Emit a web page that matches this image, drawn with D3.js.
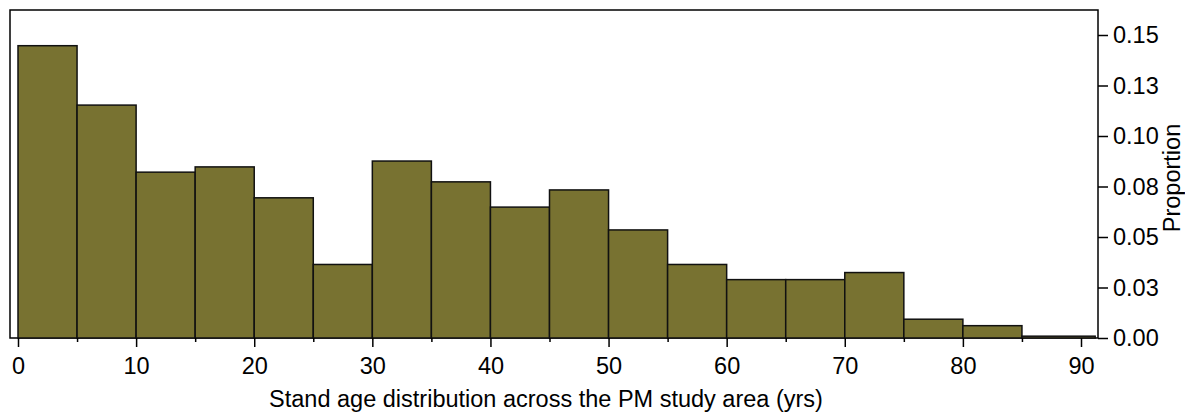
<!DOCTYPE html>
<html>
<head>
<meta charset="utf-8">
<script src="https://cdn.jsdelivr.net/npm/d3@7"></script>
<style>
  html, body { margin: 0; padding: 0; background: #fff; }
  svg { display: block; font-family: "Liberation Sans", Arial, sans-serif; }
</style>
</head>
<body>
<svg id="chart" width="1185" height="412"></svg>
<script>
// Histogram bins of stand age (years); last bin runs to the oldest stand
const binStarts = [0, 5, 10, 15, 20, 25, 30, 35, 40, 45, 50, 55, 60, 65, 70, 75, 80, 85];
const binEnds   = [5, 10, 15, 20, 25, 30, 35, 40, 45, 50, 55, 60, 65, 70, 75, 80, 85, 91.2];
const proportions = [0.1447, 0.1153, 0.0821, 0.0847, 0.0694, 0.0364, 0.0876, 0.0773, 0.0648,
                     0.0733, 0.0535, 0.0364, 0.0289, 0.0289, 0.0324, 0.0093, 0.0061, 0.0009];

const xMajorTicks = [0, 10, 20, 30, 40, 50, 60, 70, 80, 90];
const xMinorTicks = [5, 15, 25, 35, 45, 55, 65, 75, 85];
const yTickValues = [0, 0.025, 0.05, 0.075, 0.1, 0.125, 0.15];
const yTickLabels = ["0.00", "0.03", "0.05", "0.08", "0.10", "0.13", "0.15"];

const xTitle = "Stand age distribution across the PM study area (yrs)";
const yTitle = "Proportion";

const svg = d3.select("#chart");
const frame = { left: 10, top: 10, right: 1098, bottom: 338 };

const x = d3.scaleLinear().domain([0, 90]).range([18, 1081]);
const y = d3.scaleLinear().domain([0, 0.15]).range([frame.bottom, 35]);

const fontSize = 23.5;
const fontFamily = "'Liberation Sans', Arial, sans-serif";

// plot frame
svg.append("rect")
  .attr("x", frame.left).attr("y", frame.top)
  .attr("width", frame.right - frame.left)
  .attr("height", frame.bottom - frame.top)
  .attr("fill", "none").attr("stroke", "#000").attr("stroke-width", 1.5);

// bars
svg.append("g").selectAll("rect")
  .data(proportions)
  .join("rect")
  .attr("x", (d, i) => x(binStarts[i]))
  .attr("y", d => y(d))
  .attr("width", (d, i) => x(binEnds[i]) - x(binStarts[i]))
  .attr("height", d => y(0) - y(d))
  .attr("fill", "#787231")
  .attr("stroke", "#111")
  .attr("stroke-width", 1.5);

// x axis: labelled major ticks plus short minor ticks
const xAxis = svg.append("g")
  .attr("transform", `translate(0,${frame.bottom})`)
  .call(d3.axisBottom(x).tickValues(xMajorTicks).tickSize(9).tickPadding(10).tickFormat(d3.format("d")));
xAxis.select(".domain").remove();
xAxis.selectAll(".tick line").attr("stroke", "#000").attr("stroke-width", 1.5);
xAxis.selectAll(".tick text").attr("font-size", fontSize).attr("fill", "#000")
  .attr("font-family", fontFamily);

const xMinor = svg.append("g")
  .attr("transform", `translate(0,${frame.bottom})`)
  .call(d3.axisBottom(x).tickValues(xMinorTicks).tickSize(4).tickFormat(""));
xMinor.select(".domain").remove();
xMinor.selectAll(".tick line").attr("stroke", "#000").attr("stroke-width", 1.5);

// y axis on the right
const yAxis = svg.append("g")
  .attr("transform", `translate(${frame.right},0)`)
  .call(d3.axisRight(y).tickValues(yTickValues).tickSize(10).tickPadding(5)
    .tickFormat((d, i) => yTickLabels[i]));
yAxis.select(".domain").remove();
yAxis.selectAll(".tick line").attr("stroke", "#000").attr("stroke-width", 1.5);
yAxis.selectAll(".tick text").attr("font-size", fontSize).attr("fill", "#000")
  .attr("font-family", fontFamily);

// axis titles
svg.append("text")
  .attr("x", 546).attr("y", 407)
  .attr("text-anchor", "middle")
  .attr("font-size", fontSize)
  .attr("fill", "#000")
  .text(xTitle);

svg.append("text")
  .attr("transform", `translate(1180,178) rotate(-90)`)
  .attr("text-anchor", "middle")
  .attr("font-size", fontSize)
  .attr("fill", "#000")
  .text(yTitle);
</script>
</body>
</html>
